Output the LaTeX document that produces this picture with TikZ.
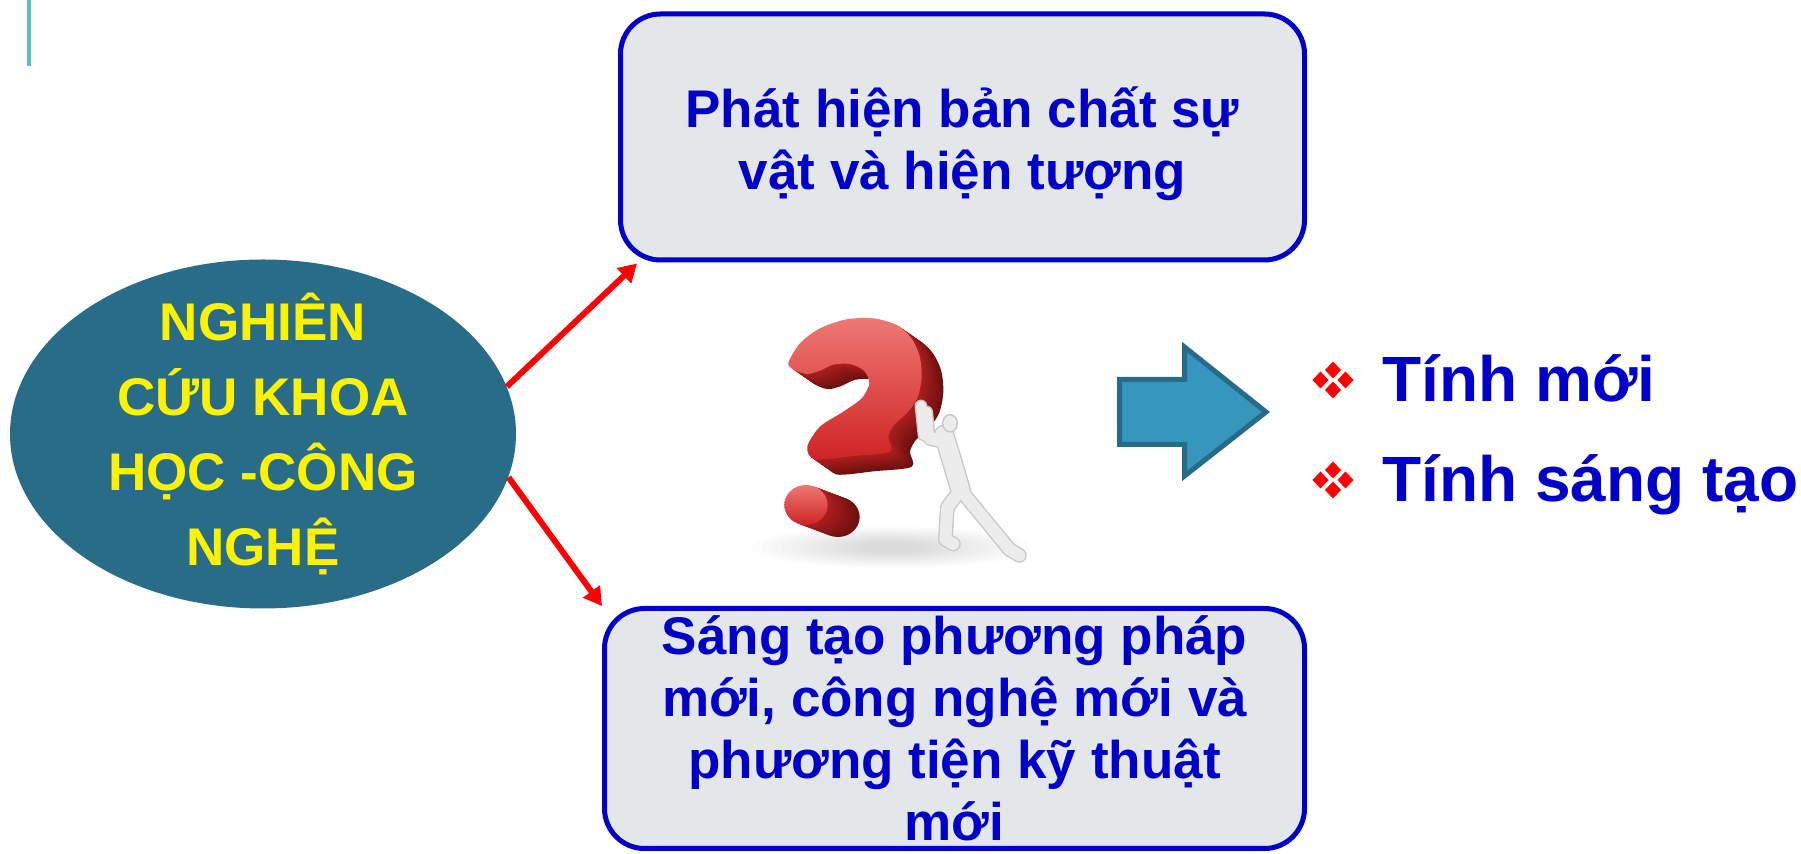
\documentclass[tikz,border=0pt]{standalone}
\usepackage{fontspec}
\setmainfont{Liberation Sans}
\usetikzlibrary{shapes.geometric,arrows.meta,calc}

\definecolor{boxblue}{RGB}{0,0,200}
\definecolor{boxfill}{RGB}{228,231,233}
\definecolor{ellfill}{RGB}{40,108,135}
\definecolor{barteal}{RGB}{91,191,203}
\definecolor{arrfill}{RGB}{55,150,189}
\definecolor{arredge}{RGB}{38,107,135}
\definecolor{qlight}{RGB}{238,120,115}
\definecolor{qred}{RGB}{206,36,36}
\definecolor{qmid}{RGB}{175,30,30}
\definecolor{qdark}{RGB}{110,16,16}
\definecolor{figline}{RGB}{200,200,200}
\definecolor{figbody}{RGB}{236,236,236}

% question-mark front face and dot, in local units
\newcommand{\qmface}[1]{\path[#1] plot[smooth cycle,tension=0.5] coordinates {
  (205,190) (240,130) (300,85) (380,58) (460,55) (530,75) (572,112)
  (598,165) (605,230) (592,295) (560,340) (522,375) (505,410) (510,455)
  (400,468) (285,478) (262,440) (300,380) (370,335) (425,295) (448,250)
  (432,212) (390,192) (340,194) (300,212) (262,222) (228,212)};}
\newcommand{\qmdot}[1]{\path[#1] (258,615) ellipse [x radius=65, y radius=60];}

\begin{document}
\begin{tikzpicture}[x=0.5pt,y=-0.5pt,
  every node/.style={font=\bfseries},
  infobox/.style={draw=boxblue, line width=2.5pt, fill=boxfill,
    rounded corners=20pt, align=center, text=boxblue, inner sep=0pt,
    font=\bfseries\fontsize{26.5}{31}\selectfont},
  link/.style={draw=red, line width=3pt, -{Triangle[length=9pt,width=10pt]}},
  bullettext/.style={anchor=base west, inner sep=0pt, text=boxblue,
    font=\bfseries\fontsize{32}{38}\selectfont},
  limb/.style={line cap=round, line join=round}]

\useasboundingbox (0,0) rectangle (1801,854);

% thin accent bar at the top left
\fill[barteal] (27,0) rectangle (31,66);

% central ellipse
\node[ellipse, fill=ellfill, minimum width=253pt, minimum height=174.5pt,
  inner sep=0pt] (ell) at (263,434) {};
\node[align=center, text=yellow, inner sep=0pt,
  font=\bfseries\fontsize{26.5}{37.5}\selectfont] (elltext) at (ell.center)
  {NGHIÊN\\CỨU KHOA\\HỌC -CÔNG\\NGHỆ};

% the two outcome boxes
\node[infobox, minimum width=342pt, minimum height=123pt] (top) at (962.5,137)
  {\rule{0pt}{27pt}Phát hiện bản chất sự\\vật và hiện tượng};
\node[infobox, minimum width=350pt, minimum height=120pt] (bot) at (954.5,728.5)
  {Sáng tạo phương pháp\\mới, công nghệ mới và\\phương tiện kỹ thuật\\mới};

% red connectors
\draw[link] (ell.11) -- ($(top.south west)+(19,1)$);
\draw[link] (ell.-10) -- (bot.north west);

% question mark pushed by a mannequin
\begin{scope}[xshift=360pt,yshift=-150pt,x=0.16667pt,y=-0.16667pt]
  % soft floor shadow
  \foreach \i in {0,...,11}{
    \fill[black, opacity=0.013] (515,742)
      ellipse [x radius=420-\i*30, y radius=62-\i*4];
  }
  % extruded body of the hook
  \foreach \k in {13,12,...,1}{
    \pgfmathtruncatemacro\mix{100*\k/13}
    \begin{scope}[shift={(\k*5,\k*3.5)}]
      \qmface{fill=qdark!\mix!qmid}
    \end{scope}
  }
  \qmface{shade, top color=qlight, bottom color=qred}
  % the dot as a short cylinder
  \foreach \k in {12,11,...,1}{
    \pgfmathtruncatemacro\mix{100*\k/12}
    \begin{scope}[shift={(\k*8,\k*3)}]
      \qmdot{fill=qdark!\mix!qmid}
    \end{scope}
  }
  \qmdot{shade, top color=qlight, bottom color=qred}

  % mannequin: outline pass, then body pass
  \foreach \w/\c in {1.4/figline, 0/figbody}{
    \draw[limb, draw=\c, line width=9pt+\w pt] (672,405) -- (695,480) -- (722,572);
    \draw[limb, draw=\c, line width=5pt+\w pt] (662,420) -- (612,405) -- (603,318);
    \draw[limb, draw=\c, line width=5pt+\w pt] (676,428) -- (628,418) -- (620,336);
    \draw[limb, draw=\c, line width=6pt+\w pt] (715,578) -- (682,622) -- (676,718) -- (700,732);
    \draw[limb, draw=\c, line width=6pt+\w pt] (730,580) -- (800,665) -- (868,748) -- (898,766);
  }
  \filldraw[fill=figbody, draw=figline, line width=0.7pt] (690,370) ellipse [x radius=22, y radius=26];
\end{scope}

% big right-pointing arrow
\filldraw[fill=arrfill, draw=arredge, line width=2.5pt, line join=miter]
  (1119.5,379.5) -- (1184.5,379.5) -- (1184.5,347) -- (1266,412)
  -- (1184.5,476) -- (1184.5,444.5) -- (1119.5,444.5) -- cycle;

% bullet markers: four small diamonds each
\foreach \cy in {380,480}{
  \foreach \dx/\dy in {0/-10,-12.5/0,12.5/0,0/10}{
    \fill[red] (1333+\dx,\cy+\dy-8.5) -- (1333+\dx+8,\cy+\dy)
      -- (1333+\dx,\cy+\dy+8.5) -- (1333+\dx-8,\cy+\dy) -- cycle;
  }
}
\node[bullettext] (b1) at (1382,402) {Tính mới};
\node[bullettext] (b2) at (1382,502) {Tính sáng tạo};

\end{tikzpicture}
\end{document}
